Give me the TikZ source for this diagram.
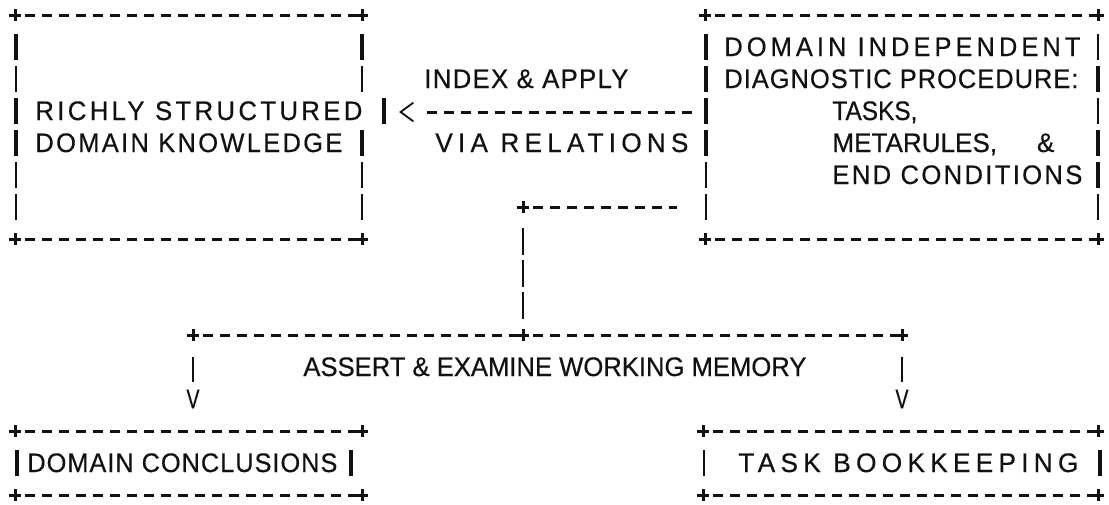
\documentclass[tikz,border=0pt]{standalone}
\usepackage{fontspec}
\setmainfont{Liberation Sans}[FakeBold=0.5]
\usepackage{graphicx}
\usepackage{tikz}
\definecolor{ink}{HTML}{111111}
\newlength\pxl
\setlength\pxl{0.5pt}
\newcommand\fitw[3][0]{\resizebox{#2}{\height}{\addfontfeature{LetterSpace=#1}#3}}

\begin{document}
\begin{tikzpicture}[x=0.5pt, y=-0.5pt, ink,
	txt/.style={anchor=base west, inner sep=0pt, font=\fontsize{13.4}{15}\selectfont},
	glyph/.style={inner sep=0pt, font=\fontsize{13.4}{15}\selectfont},
	plus/.style={inner sep=0pt, minimum size=6pt, path picture={\draw[line width=1.5pt] (path picture bounding box.north) -- (path picture bounding box.south) (path picture bounding box.west) -- (path picture bounding box.east);}},
	lessthan/.style={inner sep=0pt, minimum width=6pt, minimum height=9pt},
	dline/.style={line width=1.5pt, dash pattern=on 5pt off 3.5pt, dash phase=6.5pt},
	bar/.style={line width=1.8pt},
	thinbar/.style={line width=0.8pt}]
	\useasboundingbox (0,0) rectangle (1109,504);
	% corners
	\node[plus] (kn-nw) at (15,15) {};
	\node[plus] (kn-ne) at (362,15) {};
	\node[plus] (kn-sw) at (15,239) {};
	\node[plus] (kn-se) at (362,239) {};
	\node[plus] (pr-nw) at (705,15) {};
	\node[plus] (pr-ne) at (1098,15) {};
	\node[plus] (pr-sw) at (705,239) {};
	\node[plus] (pr-se) at (1098,239) {};
	\node[plus] (cc-nw) at (15,431) {};
	\node[plus] (cc-ne) at (362,431) {};
	\node[plus] (cc-sw) at (15,495) {};
	\node[plus] (cc-se) at (362,495) {};
	\node[plus] (bk-nw) at (703,431) {};
	\node[plus] (bk-ne) at (1098,431) {};
	\node[plus] (bk-sw) at (703,495) {};
	\node[plus] (bk-se) at (1098,495) {};
	\node[plus] (conn) at (523,207) {};
	\node[plus] (bus-l) at (193,335) {};
	\node[plus] (bus-m) at (523,335) {};
	\node[plus] (bus-r) at (902,335) {};
	\foreach \a/\b in {kn-nw/kn-ne, kn-sw/kn-se, pr-nw/pr-ne, pr-sw/pr-se, cc-nw/cc-ne, cc-sw/cc-se, bk-nw/bk-ne, bk-sw/bk-se, bus-l/bus-m, bus-m/bus-r}
	\draw[dline] (\a) -- (\b);
	% box sides, one bar a line
	\foreach \x/\y/\s in {16/47/bar, 16/79/thinbar, 16/111/bar, 16/143/bar, 16/175/thinbar, 16/207/thinbar,
		362/47/bar, 362/79/thinbar, 384/111/bar, 362/143/bar, 362/175/thinbar, 362/207/thinbar,
		706/47/bar, 706/79/bar, 706/111/bar, 706/143/bar, 706/175/thinbar, 706/207/thinbar,
		1098/47/thinbar, 1098/79/bar, 1098/111/thinbar, 1098/143/bar, 1098/175/bar, 1098/207/thinbar,
		17/463/bar, 351/463/bar, 704/463/thinbar, 1100/463/bar}
	\draw[\s] (\x,\y-13) -- (\x,\y+13);
	% texts
	\node[txt] (kn1) at (35,120) {\fitw[13]{327\pxl}{RICHLY STRUCTURED}};
	\node[txt] (kn2) at (35,152) {\fitw[9]{307\pxl}{DOMAIN KNOWLEDGE}};
	\node[txt] (pr1) at (724,56) {\fitw[16]{356\pxl}{DOMAIN INDEPENDENT}};
	\node[txt] (pr2) at (724,88) {\fitw[4]{354\pxl}{DIAGNOSTIC PROCEDURE:}};
	\node[txt] (pr3) at (832,120) {\fitw{85\pxl}{TASKS,}};
	\node[txt] (pr4) at (832,152) {\fitw{222\pxl}{METARULES,\hspace{20.5pt}\&}};
	\node[txt] (pr5) at (832,184) {\fitw[9]{250\pxl}{END CONDITIONS}};
	\node[txt] (lbl-up) at (424,88) {\fitw[5]{204\pxl}{INDEX \& APPLY}};
	\node[txt] (lbl-dn) at (435,152) {\fitw[20]{253\pxl}{VIA RELATIONS}};
	\node[txt] (lbl-wm) at (303,376) {\fitw{503\pxl}{ASSERT \& EXAMINE WORKING MEMORY}};
	\node[txt] (cc1) at (27,472) {\fitw[4]{310\pxl}{DOMAIN CONCLUSIONS}};
	\node[txt] (bk1) at (738,472) {\fitw[20]{340\pxl}{TASK BOOKKEEPING}};
	% connectors
	\coordinate (arr-s) at (692,112);
	\node[lessthan] (lt) at (407,112) {};
	\draw[line width=0.9pt] (lt.north east) -- (lt.west) -- (lt.south east);
	\draw[dline, dash phase=0pt, shorten >=4pt] (arr-s) -- (lt);
	\coordinate (conn-e) at (677,207);
	\draw[dline] (conn) -- (conn-e);
	\draw[thinbar, dash pattern=on 13.5pt off 2.5pt, shorten <=7.5pt, shorten >=5pt] (conn) -- (bus-m);
	\node[glyph] (v-l) at (193,399) {\fitw{13\pxl}{V}};
	\node[glyph] (v-r) at (902,399) {\fitw{13\pxl}{V}};
	\draw[thinbar, shorten <=8pt, shorten >=3.5pt] (bus-l) -- (v-l);
	\draw[thinbar, shorten <=8pt, shorten >=3.5pt] (bus-r) -- (v-r);
\end{tikzpicture}
\end{document}
